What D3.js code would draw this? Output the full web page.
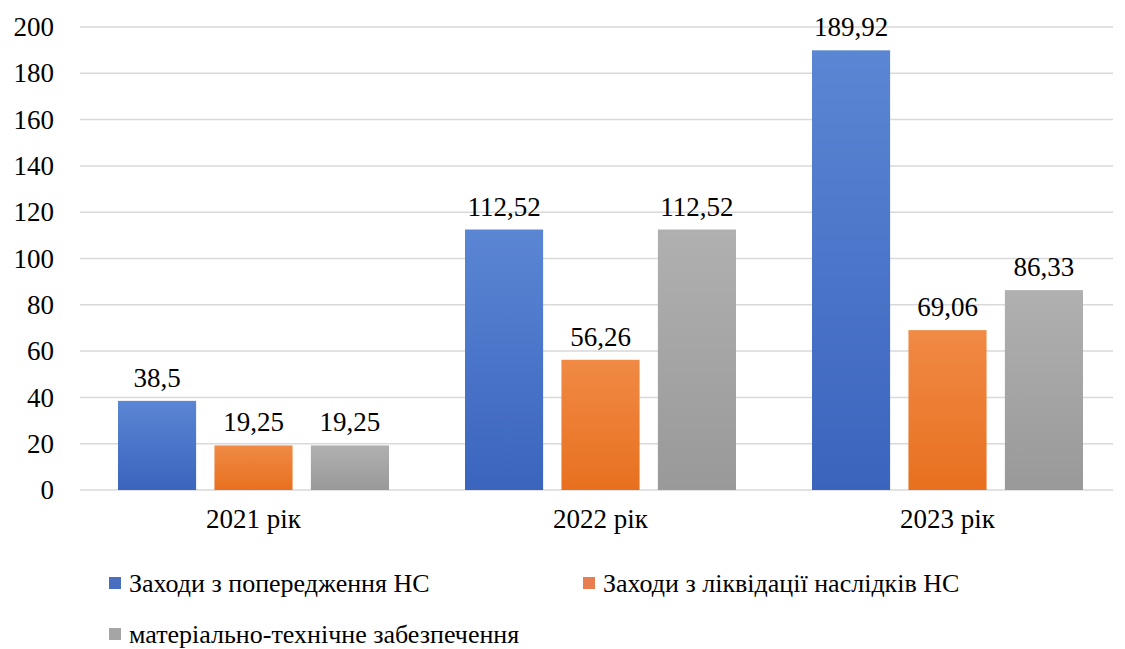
<!DOCTYPE html>
<html>
<head>
<meta charset="utf-8">
<script src="https://cdn.jsdelivr.net/npm/d3@7"></script>
</head>
<body style="margin:0">
<script>
// chart data
var years = ["2021 рік", "2022 рік", "2023 рік"];
var seriesNames = ["Заходи з попередження НС", "Заходи з ліквідації наслідків НС", "матеріально-технічне забезпечення"];
var prevention = [38.5, 112.52, 189.92];
var liquidation = [19.25, 56.26, 69.06];
var logistics = [19.25, 112.52, 86.33];
var yTicks = [0, 20, 40, 60, 80, 100, 120, 140, 160, 180, 200];

var seriesValues = [prevention, liquidation, logistics];
var colors = [
  { top: "#5b86d4", bottom: "#3b64bd", key: "#4a6fc0" },
  { top: "#f08a45", bottom: "#e8701f", key: "#e87d4f" },
  { top: "#b0b0b0", bottom: "#999999", key: "#a5a5a5" }
];

var width = 1125, height = 649;
var margin = { top: 27, right: 4, bottom: 159, left: 80 };
var serifName = "Liberation Serif";
var fontFam = d => "'" + serifName + "', monospace";

var svg = d3.select("body").append("svg")
    .attr("width", width)
    .attr("height", height);

// gradients for bars
var defs = svg.append("defs");
colors.forEach(function (c, i) {
  var g = defs.append("linearGradient")
      .attr("id", "grad" + i)
      .attr("x1", 0).attr("y1", 0).attr("x2", 0).attr("y2", 1);
  g.append("stop").attr("offset", "0%").attr("stop-color", c.top);
  g.append("stop").attr("offset", "100%").attr("stop-color", c.bottom);
});

var xScale = d3.scaleBand()
    .domain(years)
    .range([margin.left, width - margin.right])
    .paddingInner(0)
    .paddingOuter(0);

var xInner = d3.scaleBand()
    .domain(d3.range(seriesNames.length))
    .range([38, xScale.bandwidth() - 38])
    .paddingInner(0.19)
    .paddingOuter(0);

var yScale = d3.scaleLinear()
    .domain([0, 200])
    .range([height - margin.bottom, margin.top]);

// gridlines
svg.append("g")
    .selectAll("line")
    .data(yTicks)
    .enter()
    .append("line")
    .attr("x1", margin.left)
    .attr("x2", width - margin.right - 8)
    .attr("y1", d => yScale(d))
    .attr("y2", d => yScale(d))
    .attr("stroke", "#d9d9d9")
    .attr("stroke-width", 1.5);

// y axis labels (drawn as plain text from the scale's ticks)
svg.append("g")
    .selectAll("text")
    .data(yTicks)
    .enter()
    .append("text")
    .attr("x", 54)
    .attr("y", d => yScale(d))
    .attr("dy", "0.34em")
    .attr("text-anchor", "end")
    .style("font-family", fontFam)
    .attr("font-size", "27px")
    .text(d => d3.format("d")(d));

// x axis labels
svg.append("g")
    .selectAll("text")
    .data(years)
    .enter()
    .append("text")
    .attr("x", d => xScale(d) + xScale.bandwidth() / 2)
    .attr("y", height - margin.bottom + 19)
    .attr("dy", "0.71em")
    .attr("text-anchor", "middle")
    .style("font-family", fontFam)
    .attr("font-size", "27px")
    .text(d => d);

// bars
var groups = svg.selectAll("g.year")
    .data(years)
    .enter()
    .append("g")
    .attr("class", "year")
    .attr("transform", d => "translate(" + xScale(d) + ",0)");

groups.each(function (year, yi) {
  var g = d3.select(this);
  seriesValues.forEach(function (vals, si) {
    var v = vals[yi];
    g.append("rect")
        .attr("x", xInner(si))
        .attr("y", yScale(v))
        .attr("width", xInner.bandwidth())
        .attr("height", yScale(0) - yScale(v))
        .attr("fill", "url(#grad" + si + ")");
    g.append("text")
        .attr("x", xInner(si) + xInner.bandwidth() / 2)
        .attr("y", yScale(v) - 14)
        .attr("text-anchor", "middle")
        .style("font-family", fontFam)
        .attr("font-size", "27px")
        .text(String(v).replace(".", ","));
  });
});

// legend
var legendPos = [[109, 583], [583, 583], [109, 634]];
var legend = svg.selectAll("g.legend")
    .data(seriesNames)
    .enter()
    .append("g")
    .attr("class", "legend")
    .attr("transform", (d, i) => "translate(" + legendPos[i][0] + "," + legendPos[i][1] + ")");

legend.append("rect")
    .attr("x", 0)
    .attr("y", -6)
    .attr("width", 12)
    .attr("height", 12)
    .attr("fill", (d, i) => colors[i].key);

legend.append("text")
    .attr("x", 20)
    .attr("y", 9)
    .style("font-family", fontFam)
    .attr("font-size", "26px")
    .text(d => d);
</script>
</body>
</html>
